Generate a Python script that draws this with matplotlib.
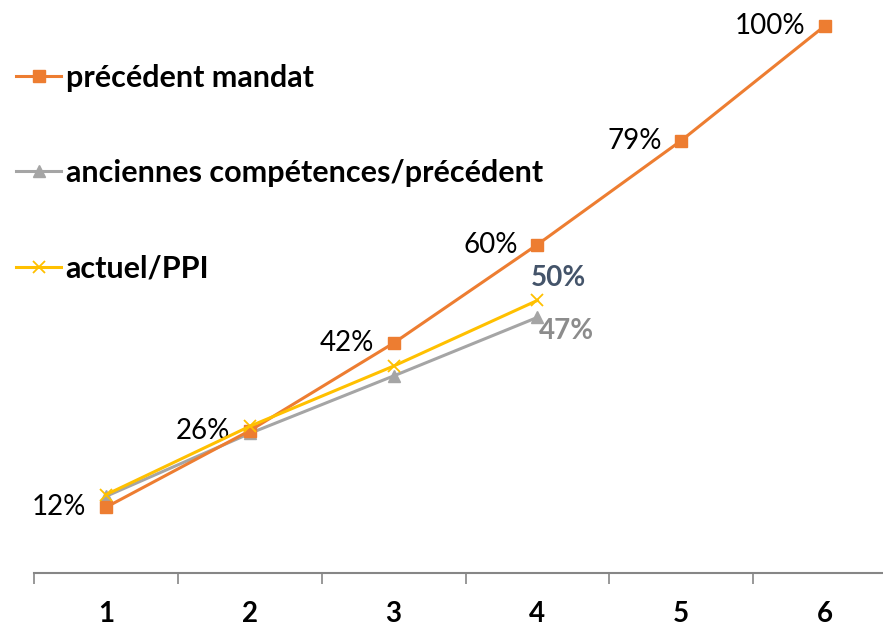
import matplotlib.pyplot as plt

plt.rcParams["font.family"] = ["Lato", "DejaVu Sans"]

categories = [1, 2, 3, 4, 5, 6]
precedent_mandat = [12, 26, 42, 60, 79, 100]
anciennes_competences = [14, 25.5, 36, 46.7]
actuel_ppi = [14.3, 26.8, 37.8, 49.8]

ORANGE = "#ED7D31"
GRAY = "#A5A5A5"
YELLOW = "#FFC000"

fig = plt.figure(figsize=(8.83, 6.26), dpi=100)
ax = fig.add_axes([34 / 883, 53 / 626, 863 / 883, 572 / 626])

ax.plot(categories, precedent_mandat, color=ORANGE, linewidth=2.2,
        marker="s", markersize=8, label="précédent mandat", zorder=3)
ax.plot(categories[:4], anciennes_competences, color=GRAY, linewidth=2.2,
        marker="^", markersize=8, label="anciennes compétences/précédent", zorder=2)
ax.plot(categories[:4], actuel_ppi, color=YELLOW, linewidth=2.2,
        marker="x", markersize=8, markeredgewidth=1.3,
        label="actuel/PPI", zorder=4)

# data labels
for x, v in zip(categories, precedent_mandat):
    ax.annotate(f"{v}%", (x, v), xytext=(-14, 0), textcoords="offset points",
                ha="right", va="center", fontsize=20, color="black")
ax.annotate(f"{round(actuel_ppi[3])}%", (4, actuel_ppi[3]), xytext=(15, 16),
            textcoords="offset points", ha="center", va="center",
            fontsize=20, fontweight="bold", color="#44546A")
ax.annotate(f"{round(anciennes_competences[3])}%", (4, anciennes_competences[3]),
            xytext=(21, -10), textcoords="offset points", ha="center",
            va="center", fontsize=20, fontweight="bold", color="#8C8C8C")

ax.set_xlim(0.5, 6.5)
ax.set_ylim(0, 104.5)

for side in ["top", "right", "left"]:
    ax.spines[side].set_visible(False)
ax.spines["bottom"].set_color("#868686")
ax.spines["bottom"].set_linewidth(1.5)
ax.set_yticks([])

ax.set_xticks(categories)
ax.set_xticklabels([str(c) for c in categories], fontsize=20, fontweight="bold")
ax.tick_params(axis="x", which="major", length=0, pad=20)
ax.set_xticks([c - 0.5 for c in categories] + [6.5], minor=True)
ax.tick_params(axis="x", which="minor", length=8, width=1.2, color="#868686")

leg = ax.legend(loc="upper left", bbox_to_anchor=(-0.006, 0.932),
                bbox_transform=fig.transFigure, frameon=False,
                prop={"size": 22, "weight": "bold"}, handlelength=1.47,
                handletextpad=0.15, labelspacing=2.2, borderaxespad=0.3)

fig.savefig("out.png", dpi=100)
